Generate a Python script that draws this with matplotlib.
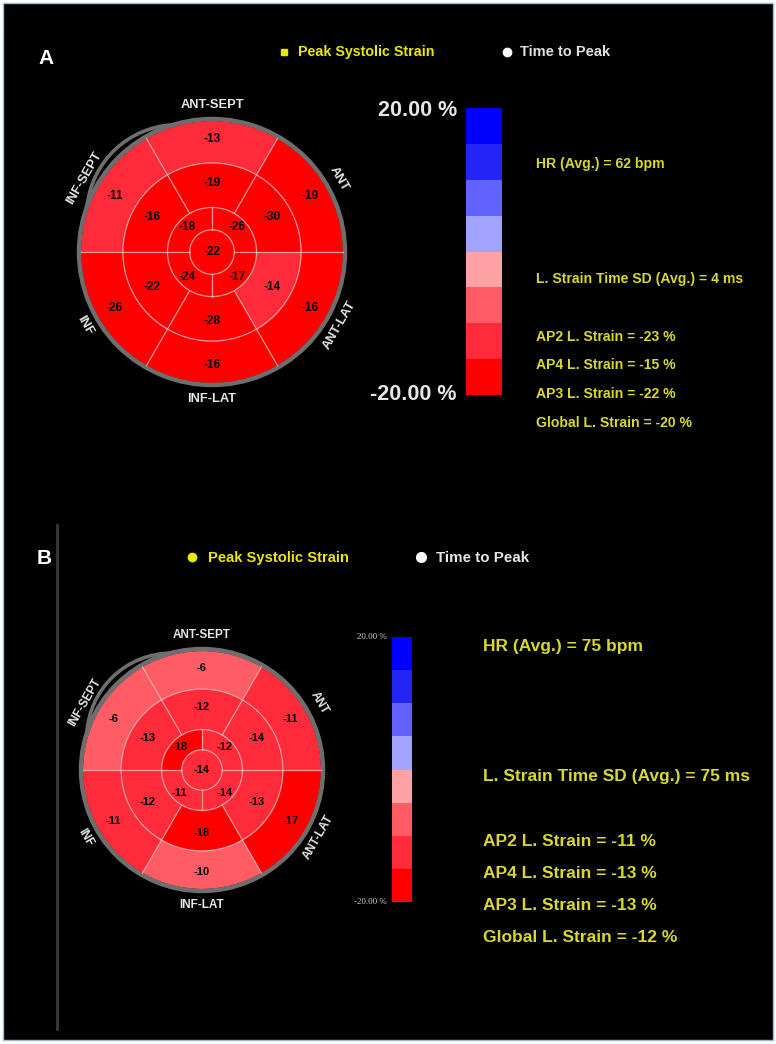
import numpy as np
import matplotlib
matplotlib.use("Agg")
import matplotlib.pyplot as plt
from matplotlib.patches import Wedge, Circle, Arc, Rectangle
from matplotlib.colors import ListedColormap, BoundaryNorm
from matplotlib.cm import ScalarMappable

W, H = 776, 1044

# Strain colour scale (8 steps from -20 % to 20 %).
scale_bounds = [-20, -15, -10, -5, 0, 5, 10, 15, 20]
scale_colors = ["#ff0000", "#ff2a3a", "#ff5c66", "#ffa2a6",
                "#a2a2ff", "#6262ff", "#2424f6", "#0000ff"]

# Basal and mid rings: ANT-SEPT, ANT, ANT-LAT, INF-LAT, INF, INF-SEPT.
ring_labels = ["ANT-SEPT", "ANT", "ANT-LAT", "INF-LAT", "INF", "INF-SEPT"]
# Apical ring quadrants: upper right, lower right, lower left, upper left.

a_basal = [-13, -19, -16, -16, -26, -11]
a_mid = [-19, -30, -14, -28, -22, -16]
a_apical = [-26, -17, -24, -18]
a_apex = -22
a_info = ["HR (Avg.) = 62 bpm", "L. Strain Time SD (Avg.) = 4 ms",
          "AP2 L. Strain = -23 %", "AP4 L. Strain = -15 %",
          "AP3 L. Strain = -22 %", "Global L. Strain = -20 %"]

b_basal = [-6, -11, -17, -10, -11, -6]
b_mid = [-12, -14, -13, -18, -12, -13]
b_apical = [-12, -14, -11, -18]
b_apex = -14
b_info = ["HR (Avg.) = 75 bpm", "L. Strain Time SD (Avg.) = 75 ms",
          "AP2 L. Strain = -11 %", "AP4 L. Strain = -13 %",
          "AP3 L. Strain = -13 %", "Global L. Strain = -12 %"]

cmap = ListedColormap(scale_colors)
norm = BoundaryNorm(scale_bounds, cmap.N, clip=True)

SANS = ["Liberation Sans", "DejaVu Sans"]
YELLOW = "#d8d82c"

fig = plt.figure(figsize=(W / 100, H / 100), dpi=100, facecolor="white")
bg = fig.add_axes([0, 0, 1, 1])
bg.set_xlim(0, W)
bg.set_ylim(H, 0)
bg.axis("off")
bg.add_patch(Rectangle((3, 3), W - 6, H - 7, facecolor="black",
                       edgecolor="#9db8d4", lw=1.0))


def px_axes(x0, y0, w, h):
    """Axes placed in pixel coords (top-left origin)."""
    return fig.add_axes([x0 / W, 1 - (y0 + h) / H, w / W, h / H])


def bullseye(cx, cy, R, basal, mid, apical, apex, fs_val, fs_lab, rot_arc):
    half = 175
    ax = px_axes(cx - half, cy - half, 2 * half, 2 * half)
    ax.set_xlim(-half, half)
    ax.set_ylim(-half, half)
    ax.axis("off")
    r_mid, r_ap, r_apex = 0.68 * R, 0.34 * R, 0.17 * R
    centers6 = [90, 30, -30, -90, -150, 150]
    centers4 = [45, -45, -135, 135]
    for c, v in zip(centers6, basal):
        ax.add_patch(Wedge((0, 0), R, c - 30, c + 30, width=R - r_mid,
                           facecolor=cmap(norm(v)), lw=0))
    for c, v in zip(centers6, mid):
        ax.add_patch(Wedge((0, 0), r_mid, c - 30, c + 30, width=r_mid - r_ap,
                           facecolor=cmap(norm(v)), lw=0))
    for c, v in zip(centers4, apical):
        ax.add_patch(Wedge((0, 0), r_ap, c - 45, c + 45, width=r_ap - r_apex,
                           facecolor=cmap(norm(v)), lw=0))
    ax.add_patch(Circle((0, 0), r_apex, facecolor=cmap(norm(apex)), lw=0))
    # Grid lines between segments.
    grid = dict(color="#f0c0c0", lw=0.9, alpha=0.8)
    for r in (r_mid, r_ap, r_apex):
        ax.add_patch(Circle((0, 0), r, fill=False, ec=grid["color"],
                            lw=grid["lw"], alpha=grid["alpha"]))
    for a in (0, 60, 120, 180, 240, 300):
        t = np.radians(a)
        ax.plot([r_ap * np.cos(t), R * np.cos(t)],
                [r_ap * np.sin(t), R * np.sin(t)], **grid)
    for a in (0, 90, 180, 270):
        t = np.radians(a)
        ax.plot([r_apex * np.cos(t), r_ap * np.cos(t)],
                [r_apex * np.sin(t), r_ap * np.sin(t)], **grid)
    # Outer grey ring and the extra arc on the septal side.
    ring = R + 2
    ax.add_patch(Circle((0, 0), ring, fill=False, ec="#6e6e6e", lw=3.2))
    a1, a2, bulge = rot_arc
    m, hh = np.radians((a1 + a2) / 2), np.radians((a2 - a1) / 2)
    d, h = ring * np.cos(hh), ring * np.sin(hh)
    s = ring + bulge - d
    R2 = (h * h + s * s) / (2 * s)
    c2 = ring + bulge - R2
    half2 = np.degrees(np.arctan2(h, d - c2))
    md = np.degrees(m)
    ax.add_patch(Arc((c2 * np.cos(m), c2 * np.sin(m)), 2 * R2, 2 * R2,
                     theta1=md - half2, theta2=md + half2,
                     ec="#6e6e6e", lw=2.6))
    # Segment values.
    vt = dict(ha="center", va="center", fontsize=fs_val, fontweight="bold",
              color="black", family=SANS)
    for c, v in zip(centers6, basal):
        t = np.radians(c)
        ax.text(0.86 * R * np.cos(t), 0.86 * R * np.sin(t), str(v), **vt)
    for c, v in zip(centers6, mid):
        t = np.radians(c)
        ax.text(0.53 * R * np.cos(t), 0.53 * R * np.sin(t), str(v), **vt)
    for c, v in zip(centers4, apical):
        t = np.radians(c)
        ax.text(0.27 * R * np.cos(t), 0.27 * R * np.sin(t), str(v), **vt)
    ax.text(0, 0, str(apex), **vt)
    # Wall names around the rim.
    lab_r = R + 16
    rots = [0, -60, 60, 0, -60, 60]
    for c, name, rot in zip(centers6, ring_labels, rots):
        t = np.radians(c)
        ax.text(lab_r * np.cos(t), lab_r * np.sin(t), name, rotation=rot,
                rotation_mode="anchor", ha="center", va="center",
                fontsize=fs_lab, fontweight="bold", color="#e6e6e6",
                family=SANS)
    return ax


def colorbar(x0, y0, w, h):
    cax = px_axes(x0, y0, w, h)
    cb = fig.colorbar(ScalarMappable(norm=norm, cmap=cmap), cax=cax)
    cb.set_ticks([])
    cb.outline.set_visible(False)
    return cb


# ---------------- Panel A ----------------
bg.text(46, 58, "A", fontsize=15, fontweight="bold", color="white",
        ha="center", va="center", family=SANS)
bg.plot(284, 52, "s", ms=5, color="#e8e800")
bg.text(298, 52, "Peak Systolic Strain", fontsize=10.3, fontweight="bold",
        color="#e8e800", va="center", family=SANS)
bg.plot(507, 52, "o", ms=6, color="white")
bg.text(520, 52, "Time to Peak", fontsize=10.5, fontweight="bold",
        color="#e0e0e0", va="center", family=SANS)

bullseye(212, 252, 131, a_basal, a_mid, a_apical, a_apex,
         fs_val=8.5, fs_lab=9.3, rot_arc=(107, 160, 8))
colorbar(466, 108, 36, 287)
bg.text(457, 110, "20.00 %", fontsize=15.5, fontweight="bold",
        color="#e6e6e6", ha="right", va="center", family=SANS)
bg.text(457, 395, "-20.00 %", fontsize=15.5, fontweight="bold",
        color="#e6e6e6", ha="right", va="center", family=SANS)
for y, line in zip([164, 279, 337, 365, 394, 423], a_info):
    bg.text(536, y, line, fontsize=10.1, fontweight="bold", color=YELLOW,
            va="center", family=SANS)

# ---------------- Panel B ----------------
bg.plot([57, 57], [525, 1029], color="#3a3a3a", lw=2)
bg.text(44, 559, "B", fontsize=15, fontweight="bold", color="white",
        ha="center", va="center", family=SANS)
bg.plot(192, 557, "o", ms=6, color="#e8e800")
bg.text(208, 558, "Peak Systolic Strain", fontsize=10.6, fontweight="bold",
        color="#e8e800", va="center", family=SANS)
bg.plot(421, 557, "o", ms=7, color="white")
bg.text(436, 558, "Time to Peak", fontsize=10.9, fontweight="bold",
        color="#e6e6e6", va="center", family=SANS)

bullseye(202, 770, 119, b_basal, b_mid, b_apical, b_apex,
         fs_val=8, fs_lab=8.5, rot_arc=(105, 162, 8))
colorbar(392, 637, 20, 265)
bg.text(387, 637, "20.00 %", fontsize=6.5, color="#cfcfcf", ha="right",
        va="center", family=["Liberation Serif", "DejaVu Serif"])
bg.text(387, 902, "-20.00 %", fontsize=6.5, color="#cfcfcf", ha="right",
        va="center", family=["Liberation Serif", "DejaVu Serif"])
for y, line in zip([647, 777, 842, 874, 906, 938], b_info):
    bg.text(483, y, line, fontsize=12.5, fontweight="bold", color=YELLOW,
            va="center", family=SANS)

fig.savefig("out.png", dpi=100, facecolor="white")
